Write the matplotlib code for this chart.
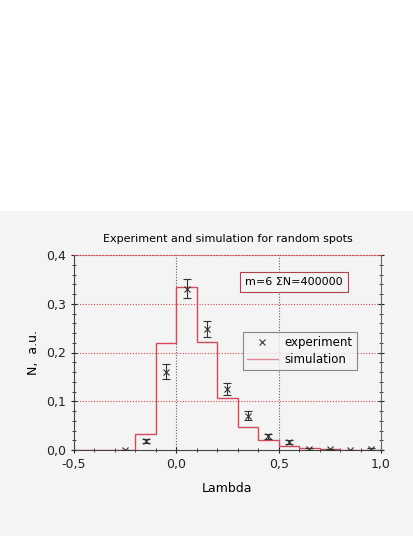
import matplotlib
matplotlib.use('Agg')
import matplotlib.pyplot as plt
from matplotlib.patches import Rectangle
from matplotlib.lines import Line2D
from matplotlib.ticker import MultipleLocator, FuncFormatter

# simulation histogram (bin edges and heights)
sim_edges = [-0.5, -0.2, -0.1, 0.0, 0.1, 0.2, 0.3, 0.4, 0.5, 0.6, 0.7, 0.8, 0.9, 1.0]
sim_vals = [0.0, 0.033, 0.22, 0.335, 0.221, 0.106, 0.047, 0.021, 0.008, 0.004, 0.002, 0.001, 0.001]

# experiment points
exp_x = [-0.25, -0.15, -0.05, 0.05, 0.15, 0.25, 0.35, 0.45, 0.55, 0.65, 0.75, 0.85, 0.95]
exp_y = [0.0, 0.019, 0.161, 0.331, 0.248, 0.125, 0.070, 0.028, 0.016, 0.003, 0.002, 0.0, 0.002]
exp_err = [0.0, 0.004, 0.015, 0.02, 0.017, 0.013, 0.009, 0.005, 0.004, 0.002, 0.001, 0.001, 0.002]

bg = '#f4f4f4'
sim_col = '#d04a5a'
exp_col = '#333333'
fig = plt.figure(figsize=(4.14, 5.36), dpi=100)
fig.patch.set_facecolor('white')
fig.patches.append(Rectangle((0, 0), 1, 1 - 211 / 536, transform=fig.transFigure,
                             facecolor=bg, edgecolor='none', zorder=-10))

ax = fig.add_axes([74 / 414, 1 - 450 / 536, 307 / 414, 195 / 536])
ax.set_facecolor(bg)

# grid
for yv in [0.1, 0.2, 0.3]:
    ax.axhline(yv, color='#d04a50', lw=0.8, ls=(0, (1, 1.5)), zorder=1)
for xv in [0.0, 0.5]:
    ax.axvline(xv, color='#5a5a80', lw=0.8, ls=(0, (1, 1.5)), zorder=1)

# simulation step line
ax.stairs(sim_vals, sim_edges, color=sim_col, lw=1.0, zorder=2)

# experiment
ax.errorbar(exp_x, exp_y, yerr=exp_err, fmt='x', color=exp_col, ms=4, mew=0.8,
            elinewidth=0.8, capsize=3, capthick=0.8, zorder=3)

ax.set_xlim(-0.5, 1.0)
ax.set_ylim(0.0, 0.4)
ax.xaxis.set_major_locator(MultipleLocator(0.5))
ax.xaxis.set_minor_locator(MultipleLocator(0.1))
ax.yaxis.set_major_locator(MultipleLocator(0.1))
ax.yaxis.set_minor_locator(MultipleLocator(0.02))
comma = FuncFormatter(lambda v, p: ('%.1f' % v).replace('.', ','))
ax.xaxis.set_major_formatter(comma)
ax.yaxis.set_major_formatter(comma)
ax.tick_params(which='both', direction='inout', top=False, right=True, labelsize=9,
               colors='#222222')
ax.tick_params(which='major', length=5, width=0.8)
ax.tick_params(which='minor', length=3, width=0.6)

ax.spines['top'].set_color('#d04a50')
ax.spines['top'].set_linestyle((0, (1, 1.5)))
ax.spines['bottom'].set_color('#444444')
ax.spines['left'].set_color('#444444')
ax.spines['right'].set_color('#666666')
for s in ax.spines.values():
    s.set_linewidth(0.8)

ax.set_xlabel('Lambda', fontsize=9, labelpad=8)
ax.set_ylabel('N,  a.u.', fontsize=9, labelpad=4)
ax.set_title('Experiment and simulation for random spots', fontsize=8, pad=9)

ax.text(0.575, 0.345, 'm=6 \u03a3N=400000', fontsize=8, ha='center', va='center',
        bbox=dict(boxstyle='square,pad=0.45', facecolor=bg, edgecolor='#b04050', lw=0.8))

handles = [Line2D([], [], ls='none', marker='x', color=exp_col, ms=4, mew=0.8),
           Line2D([], [], color='#e08898', lw=1.0)]
leg = ax.legend(handles, ['experiment', 'simulation'], loc='upper left',
                bbox_to_anchor=(0.55, 0.605), fontsize=8.5,
                frameon=True, fancybox=False, facecolor=bg, edgecolor='#776677',
                handlelength=2.6, handletextpad=0.6, borderpad=0.35, labelspacing=0.35,
                borderaxespad=0)
leg.get_frame().set_linewidth(0.8)

fig.savefig('out.png', dpi=100)
